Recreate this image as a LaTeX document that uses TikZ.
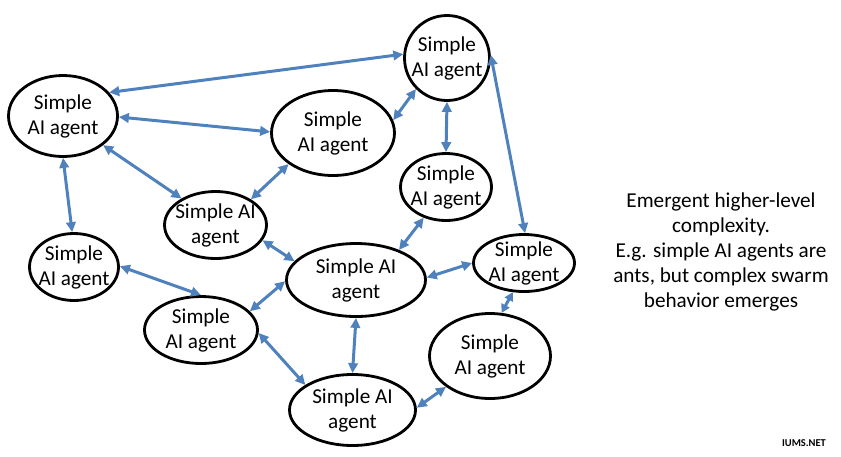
\documentclass[tikz,border=0pt]{standalone}
\usepackage{fontspec}
\setmainfont{Carlito}
\usetikzlibrary{shapes.geometric,arrows.meta}
\definecolor{linkblue}{RGB}{79,129,189}
\tikzset{
  agenttext/.style={align=center, inner sep=0pt, font=\fontsize{21.2}{25}\selectfont},
  agent/.style={ellipse, draw=black, line width=2.8pt, inner sep=0pt},
  link/.style={draw=linkblue, line width=3pt,
    {Triangle[length=10pt,width=9.5pt]}-{Triangle[length=10pt,width=9.5pt]}},
  shortlink/.style={draw=linkblue, line width=3pt,
    {Triangle[length=8.5pt,width=9pt]}-{Triangle[length=8.5pt,width=9pt]}},
  note/.style={align=center, font=\fontsize{21.2}{25}\selectfont, inner sep=0pt},
  wmark/.style={font=\fontsize{10.5}{11}\selectfont\bfseries, inner sep=0pt}
}
\begin{document}
\begin{tikzpicture}[x=1pt,y=-1pt]
\useasboundingbox (0,0) rectangle (841,456);
\node[agent, minimum width=85pt, minimum height=85pt, label={[agenttext]center:Simple\\AI agent}] (A1) at (447,58) {};
\node[agent, minimum width=109pt, minimum height=81pt, label={[agenttext]center:Simple\\AI agent}] (A2) at (63,116) {};
\node[agent, minimum width=123pt, minimum height=85pt, label={[agenttext]center:Simple\\AI agent}] (A3) at (333,133) {};
\node[agent, minimum width=91pt, minimum height=67pt, label={[agenttext]center:Simple\\AI agent}] (A4) at (446,187) {};
\node[agent, minimum width=102pt, minimum height=67pt, label={[agenttext]center:Simple AI\\agent}] (A5) at (215.5,225) {};
\node[agent, minimum width=89pt, minimum height=67pt, label={[agenttext]center:Simple\\AI agent}] (A6) at (74,267) {};
\node[agent, minimum width=139pt, minimum height=73pt, label={[agenttext]center:Simple AI\\agent}] (A7) at (356,280) {};
\node[agent, minimum width=101pt, minimum height=57pt, label={[agenttext]center:Simple\\AI agent}] (A8) at (524,263) {};
\node[agent, minimum width=113pt, minimum height=67pt, label={[agenttext]center:Simple\\AI agent}] (A9) at (201,330) {};
\node[agent, minimum width=121pt, minimum height=85pt, label={[agenttext]center:Simple\\AI agent}] (A10) at (490,356) {};
\node[agent, minimum width=126pt, minimum height=71pt, label={[agenttext]center:Simple AI\\agent}] (A11) at (352.5,410) {};

\draw[link] (A2.27) -- (A1.175);
\draw[link] (A2.-1) -- (A3.179);
\draw[link] (A2.-36) -- (A5.142);
\draw[link] (A2.-90) -- (A6.93);
\draw[link] (A3.12) -- (A1.225);
\draw[link] (A3.215) -- (A5.36);
\draw[link] (A1.-90) -- (A4.90);
\draw[link] (A1.4) -- (A8.88);
\draw[link] (A4.234) -- (A7.35);
\draw[link] (A5.-18) -- (A7.163);
\draw[link] (A7.2) -- (A8.180);
\draw[link] (A6.1) -- (A9.90);
\draw[link] (A7.181) -- (A9.21);
\draw[link] (A7.-90) -- (A11.90);
\draw[link] (A9.-3) -- (A11.152);
\draw[shortlink] (A8.249) -- (A10.75);
\draw[link] (A11.2) -- (A10.215);

\node[note] (N) at (721,252) {Emergent higher-level\\complexity.\\E.g. simple AI agents are\\ants, but complex swarm\\behavior emerges};
\node[wmark] (W) at (804,443) {IUMS.NET};
\end{tikzpicture}
\end{document}
